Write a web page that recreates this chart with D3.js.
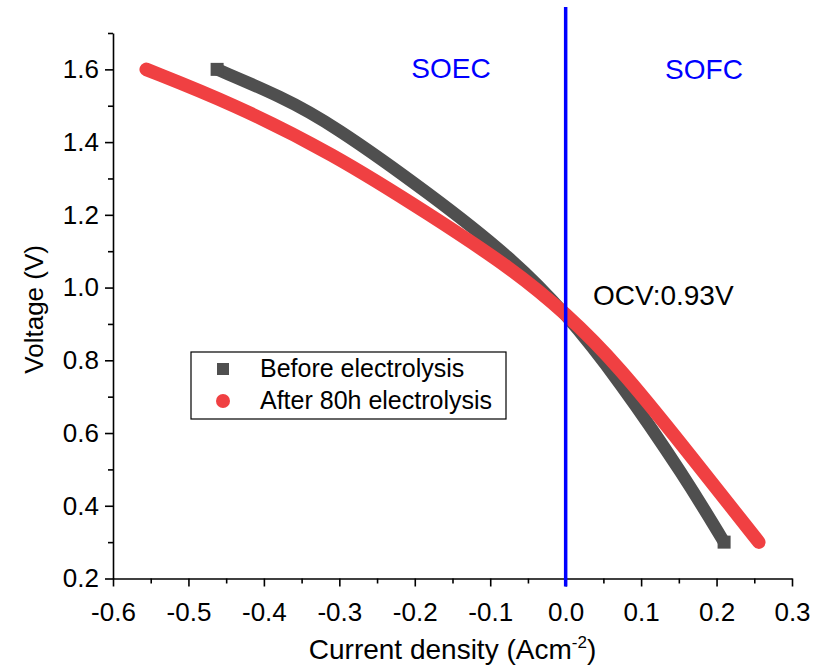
<!DOCTYPE html>
<html>
<head>
<meta charset="utf-8">
<script src="https://cdn.jsdelivr.net/npm/d3@7"></script>
<style>
  body { margin: 0; background: #ffffff; }
  text { font-family: Arial, "Liberation Sans", sans-serif; }
</style>
</head>
<body>
<div id="chart"></div>
<script>
// current density (A cm^-2) and voltage (V)
const beforeCurrent = [-0.462, -0.377, -0.31, -0.178, -0.072, 0.0, 0.07, 0.158, 0.21];
const beforeVoltage = [1.60, 1.525, 1.450, 1.255, 1.082, 0.93, 0.746, 0.479, 0.30];
const afterCurrent = [-0.556, -0.443, -0.31, -0.178, -0.072, 0.0, 0.07, 0.158, 0.256];
const afterVoltage = [1.60, 1.507, 1.370, 1.198, 1.053, 0.93, 0.785, 0.558, 0.30];

const xTicks = [-0.6, -0.5, -0.4, -0.3, -0.2, -0.1, 0.0, 0.1, 0.2, 0.3];
const yTicks = [0.2, 0.4, 0.6, 0.8, 1.0, 1.2, 1.4, 1.6];
const xMinor = [-0.55, -0.45, -0.35, -0.25, -0.15, -0.05, 0.05, 0.15, 0.25];
const yMinor = [0.3, 0.5, 0.7, 0.9, 1.1, 1.3, 1.5, 1.7];
const seriesNames = ["Before electrolysis", "After 80h electrolysis"];

const width = 815, height = 668;
const margin = {top: 33, right: 23, bottom: 90, left: 113};

const svg = d3.select("#chart").append("svg")
    .attr("width", width)
    .attr("height", height);

const x = d3.scaleLinear().domain([-0.6, 0.3]).range([margin.left, width - margin.right]);
const y = d3.scaleLinear().domain([0.2, 1.7]).range([height - margin.bottom + 0.5, margin.top]);

const grey = "#4f4f4f", red = "#f04042", blue = "#0000ff";
const fmt = d => d < 0 ? "-" + d3.format(".1f")(-d) : d3.format(".1f")(d);

// axes: major + minor ticks
const xAxisG = svg.append("g").attr("transform", `translate(0,${y(0.2)})`);
xAxisG.call(d3.axisBottom(x).tickValues(xTicks).tickSize(8).tickFormat(fmt).tickSizeOuter(0));
xAxisG.selectAll(".tick text").attr("font-size", "26px").attr("fill", "#000").attr("dy", "1.2em");
xAxisG.append("g").call(d3.axisBottom(x).tickValues(xMinor).tickSize(5).tickFormat(() => "").tickSizeOuter(0))
    .select(".domain").remove();

const yAxisG = svg.append("g").attr("transform", `translate(${x(-0.6)},0)`);
yAxisG.call(d3.axisLeft(y).tickValues(yTicks).tickSize(8).tickFormat(d3.format(".1f")).tickSizeOuter(0));
yAxisG.selectAll(".tick text").attr("font-size", "26px").attr("fill", "#000").attr("dx", "-0.12em");
yAxisG.append("g").call(d3.axisLeft(y).tickValues(yMinor).tickSize(5).tickFormat(() => "").tickSizeOuter(0))
    .select(".domain").remove();

svg.selectAll(".domain").attr("stroke", "#000").attr("stroke-width", 1.6);
svg.selectAll(".tick line").attr("stroke", "#000").attr("stroke-width", 1.6);

// axis titles
svg.append("text")
    .attr("transform", `translate(43,${y(0.94)}) rotate(-90)`)
    .attr("text-anchor", "middle")
    .attr("font-size", "26px")
    .text("Voltage (V)");

const xt = svg.append("text")
    .attr("x", (x(-0.6) + x(0.3)) / 2)
    .attr("y", 659)
    .attr("text-anchor", "middle")
    .attr("font-size", "28px");
xt.append("tspan").text("Current density (Acm");
xt.append("tspan").attr("dy", -11).attr("font-size", "17px").text("-2");
xt.append("tspan").attr("dy", 11).text(")");

// curves
const line = d3.line().x(d => x(d[0])).y(d => y(d[1])).curve(d3.curveBasis);
const beforeData = beforeCurrent.map((c, i) => [c, beforeVoltage[i]]);
const afterData = afterCurrent.map((c, i) => [c, afterVoltage[i]]);

svg.append("path").datum(beforeData)
    .attr("d", line)
    .attr("fill", "none")
    .attr("stroke", grey)
    .attr("stroke-width", 12.5);

svg.selectAll(".endsq").data([beforeData[0], beforeData[beforeData.length - 1]])
    .enter().append("rect")
    .attr("x", d => x(d[0]) - 6.5)
    .attr("y", d => y(d[1]) - 6.5)
    .attr("width", 13)
    .attr("height", 13)
    .attr("fill", grey);

svg.append("path").datum(afterData)
    .attr("d", line)
    .attr("fill", "none")
    .attr("stroke", red)
    .attr("stroke-width", 13.5)
    .attr("stroke-linecap", "round")
    .attr("stroke-linejoin", "round");

// vertical line at zero current
svg.append("line")
    .attr("x1", x(0)).attr("x2", x(0))
    .attr("y1", 7).attr("y2", y(0.2) + 8)
    .attr("stroke", blue)
    .attr("stroke-width", 3.5);

// region labels
svg.append("text").attr("x", 451).attr("y", 78).attr("text-anchor", "middle")
    .attr("font-size", "28px").attr("fill", blue).text("SOEC");
svg.append("text").attr("x", 704).attr("y", 79).attr("text-anchor", "middle")
    .attr("font-size", "28px").attr("fill", blue).text("SOFC");
svg.append("text").attr("x", 593).attr("y", 305)
    .attr("font-size", "28px").attr("fill", "#000").text("OCV:0.93V");

// legend
const lg = svg.append("g").attr("transform", "translate(191,352)");
lg.append("rect").attr("width", 315).attr("height", 67)
    .attr("fill", "#fff").attr("stroke", "#000").attr("stroke-width", 1.2);
lg.append("rect").attr("x", 26).attr("y", 11).attr("width", 12).attr("height", 12).attr("fill", grey);
lg.append("circle").attr("cx", 32).attr("cy", 49).attr("r", 7).attr("fill", red);
lg.selectAll(".lt").data(seriesNames).enter().append("text")
    .attr("x", 69)
    .attr("y", (d, i) => 25 + i * 32)
    .attr("font-size", "25px")
    .attr("fill", "#000")
    .text(d => d);
</script>
</body>
</html>
